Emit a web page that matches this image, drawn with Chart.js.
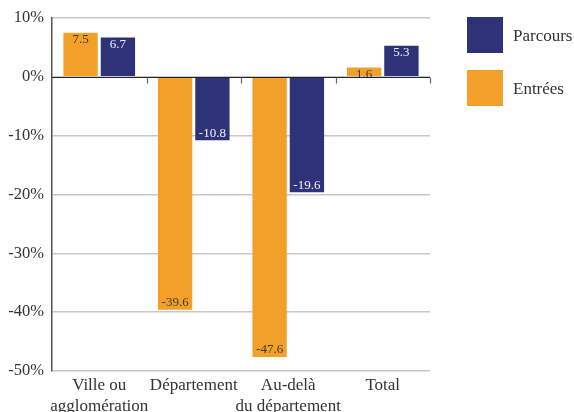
<!DOCTYPE html>
<html>
<head>
<meta charset="utf-8">
<script src="https://cdn.jsdelivr.net/npm/chart.js@4/dist/chart.umd.min.js"></script>
<style>
  html, body { margin: 0; padding: 0; background: #fff; }
  #wrap { width: 574px; height: 412px; position: relative; }
</style>
</head>
<body>
<div id="wrap"><canvas id="chart"></canvas></div>
<script>
const categories = [['Ville ou', 'agglomération'], 'Département', ['Au-delà', 'du département'], 'Total'];
const entrees = [7.5, -39.6, -47.6, 1.6];
const parcours = [6.7, -10.8, -19.6, 5.3];
const yTicks = [10, 0, -10, -20, -30, -40, -50];

const serif = "'Liberation Serif', 'Times New Roman', serif";
const orange = '#f2a02a';
const navy = '#2e3278';

// labels inside the bar end, zero line with its small ticks, and the legend on the right
const extras = {
    id: 'extras',
    afterDatasetsDraw(chart) {
        const ctx = chart.ctx;
        const x = chart.scales.x;
        const y = chart.scales.y;
        const area = chart.chartArea;

        ctx.save();
        ctx.font = '13px ' + serif;
        ctx.textAlign = 'center';
        ctx.textBaseline = 'middle';
        chart.data.datasets.forEach((ds, i) => {
            const meta = chart.getDatasetMeta(i);
            meta.data.forEach((bar, j) => {
                const v = ds.data[j];
                const ty = v >= 0 ? bar.y + 7 : bar.y - 7;
                ctx.fillStyle = ds.labelColor;
                ctx.fillText(v.toFixed(1), bar.x, ty);
            });
        });

        // zero line
        const y0 = Math.round(y.getPixelForValue(0)) + 0.5;
        ctx.strokeStyle = '#222';
        ctx.lineWidth = 1.2;
        ctx.beginPath();
        ctx.moveTo(area.left, y0);
        ctx.lineTo(area.right, y0);
        ctx.stroke();
        ctx.strokeStyle = '#666';
        for (let i = 1; i <= categories.length; i++) {
            const bx = i < categories.length
                ? (x.getPixelForValue(i - 1) + x.getPixelForValue(i)) / 2
                : area.right;
            ctx.beginPath();
            ctx.moveTo(Math.round(bx) + 0.5, y0);
            ctx.lineTo(Math.round(bx) + 0.5, y0 + 6);
            ctx.stroke();
        }

        // legend
        ctx.font = '17px ' + serif;
        ctx.textAlign = 'left';
        ctx.textBaseline = 'middle';
        const order = [1, 0];
        order.forEach((di, k) => {
            const ds = chart.data.datasets[di];
            const top = 17 + k * 53;
            ctx.fillStyle = ds.backgroundColor;
            ctx.fillRect(467, top, 36, 36);
            ctx.fillStyle = '#333';
            ctx.fillText(ds.label, 513, top + 20);
        });
        ctx.restore();
    }
};

new Chart(document.getElementById('chart'), {
    type: 'bar',
    data: {
        labels: categories,
        datasets: [
            { label: 'Entrées', data: entrees, backgroundColor: orange, labelColor: '#3a3a3a' },
            { label: 'Parcours', data: parcours, backgroundColor: navy, labelColor: '#f4f4f4' }
        ]
    },
    plugins: [extras],
    options: {
        responsive: true,
        maintainAspectRatio: false,
        animation: false,
        datasets: {
            bar: { categoryPercentage: 0.79, barPercentage: 0.92 }
        },
        layout: { padding: { top: 18, right: 144, bottom: 0, left: 0 } },
        plugins: {
            legend: { display: false },
            tooltip: { enabled: false }
        },
        scales: {
            x: {
                grid: { display: false },
                border: { display: false },
                ticks: {
                    color: '#333',
                    font: { family: serif, size: 17, lineHeight: 1.22 },
                    padding: -4,
                    maxRotation: 0,
                    autoSkip: false
                },
                afterFit(scale) { scale.height = 41; }
            },
            y: {
                min: -50,
                max: 10,
                afterBuildTicks(scale) {
                    scale.ticks = yTicks.map(v => ({ value: v }));
                },
                grid: { color: '#c8c8c8', lineWidth: 1.5, drawTicks: false },
                border: { display: true, color: '#555', width: 1.5 },
                ticks: {
                    color: '#333',
                    font: { family: serif, size: 16.5 },
                    padding: 8,
                    callback: v => v + '%'
                },
                afterFit(scale) { scale.width = 52; }
            }
        }
    }
});
</script>
</body>
</html>
